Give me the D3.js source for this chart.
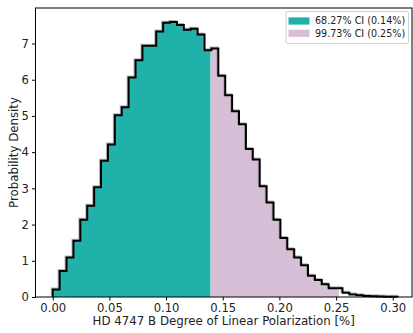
<!DOCTYPE html>
<html><head><meta charset="utf-8">
<script src="https://cdn.jsdelivr.net/npm/d3@7"></script>
<style>body{margin:0;background:#fff}svg{display:block}text{font-family:"DejaVu Sans",sans-serif;fill:#222}</style>
</head><body><svg id="c" width="413" height="333"></svg>
<script>
// Histogram data (probability density per bin)
const binStart = 0.0;
const binEnd = 0.3044;
const density = [0.21,0.72,1.09,1.55,2.13,2.52,3.03,3.76,4.21,5.02,
  5.24,6.06,6.54,6.94,6.94,7.33,7.57,7.59,7.51,7.38,
  7.41,7.25,6.81,6.86,6.11,5.57,5.13,4.77,4.09,3.80,
  3.06,2.61,2.13,1.63,1.32,1.09,0.88,0.59,0.47,0.35,
  0.24,0.24,0.12,0.07,0.05,0.03,0.02,0.012,0.008,0.005];
const ciLabels = ["68.27% CI (0.14%)", "99.73% CI (0.25%)"];
const ciUpper = [0.1393, 0.2525];
const ciColors = ["#20b2aa", "#d8bfd8"];
const xTicks = [0.00,0.05,0.10,0.15,0.20,0.25,0.30];
const yTicks = [0,1,2,3,4,5,6,7];
const xLabel = "HD 4747 B Degree of Linear Polarization [%]";
const yLabel = "Probability Density";

const svg = d3.select("#c");
const L = 35.5, R = 412, T = 8, B = 297;
const x = d3.scaleLinear().domain([-0.0152, 0.3170]).range([L, R]);
const y = d3.scaleLinear().domain([0, 7.98]).range([B, T]);

const n = density.length;
const w = (binEnd - binStart) / n;
const edges = d3.range(n + 1).map(i => binStart + i * w);
const pts = density.map((d, i) => [edges[i], d]);
pts.push([edges[n], density[n - 1]]);

const defs = svg.append("defs");
const bounds = [binStart, ciUpper[0], ciUpper[1]];
[0, 1].forEach(k => {
  defs.append("clipPath").attr("id", "cl" + k).append("rect")
    .attr("x", x(bounds[k])).attr("y", 0)
    .attr("width", x(bounds[k + 1]) - x(bounds[k])).attr("height", 333);
});
const area = d3.area().x(d => x(d[0])).y0(y(0)).y1(d => y(d[1])).curve(d3.curveStepAfter);
[0, 1].forEach(k => {
  svg.append("path").attr("d", area(pts)).attr("fill", ciColors[k])
    .attr("clip-path", "url(#cl" + k + ")");
});

const linePts = [[edges[0], 0]].concat(pts).concat([[edges[n], 0]]);
const line = d3.line().x(d => x(d[0])).y(d => y(d[1])).curve(d3.curveStepAfter);
svg.append("path").attr("d", line(linePts)).attr("fill", "none")
  .attr("stroke", "#9a9a9a").attr("stroke-width", 2).attr("transform", "translate(-1,-1)").attr("opacity", 0.7);
svg.append("path").attr("d", line(linePts)).attr("fill", "none")
  .attr("stroke", "#000").attr("stroke-width", 2).attr("stroke-linejoin", "miter");

// frame
svg.append("rect").attr("x", L).attr("y", T).attr("width", R - L).attr("height", B - T)
  .attr("fill", "none").attr("stroke", "#000").attr("stroke-width", 1);

// axes
const xa = svg.append("g").attr("transform", `translate(0,${B})`)
  .call(d3.axisBottom(x).tickValues(xTicks).tickFormat(d3.format(".2f")).tickSize(3.5).tickPadding(3));
const ya = svg.append("g").attr("transform", `translate(${L},0)`)
  .call(d3.axisLeft(y).tickValues(yTicks).tickFormat(d3.format("d")).tickSize(3.5).tickPadding(3));
[xa, ya].forEach(g => {
  g.select(".domain").remove();
  g.selectAll("line").attr("stroke", "#000");
  g.selectAll("text").attr("font-size", "11.6px").attr("font-family", "DejaVu Sans").attr("fill", "#222");
});

svg.append("text").attr("x", (L + R) / 2).attr("y", 325).attr("text-anchor", "middle")
  .attr("font-size", "11.8px").text(xLabel);
svg.append("text").attr("transform", `translate(18,${(T + B) / 2}) rotate(-90)`)
  .attr("text-anchor", "middle").attr("font-size", "11.8px").text(yLabel);

// legend
const lg = svg.append("g");
lg.append("rect").attr("x", 286).attr("y", 11.5).attr("width", 122.5).attr("height", 32)
  .attr("rx", 2).attr("fill", "#fff").attr("fill-opacity", 0.8).attr("stroke", "#d0d0d0").attr("stroke-width", 1);
ciLabels.forEach((t, i) => {
  const cy = 21 + i * 12.3;
  lg.append("rect").attr("x", 288.5).attr("y", cy - 3.6).attr("width", 21).attr("height", 7.2).attr("fill", ciColors[i]);
  lg.append("text").attr("x", 315).attr("y", cy + 3.4).attr("font-size", "9.6px").text(t);
});
</script></body></html>
